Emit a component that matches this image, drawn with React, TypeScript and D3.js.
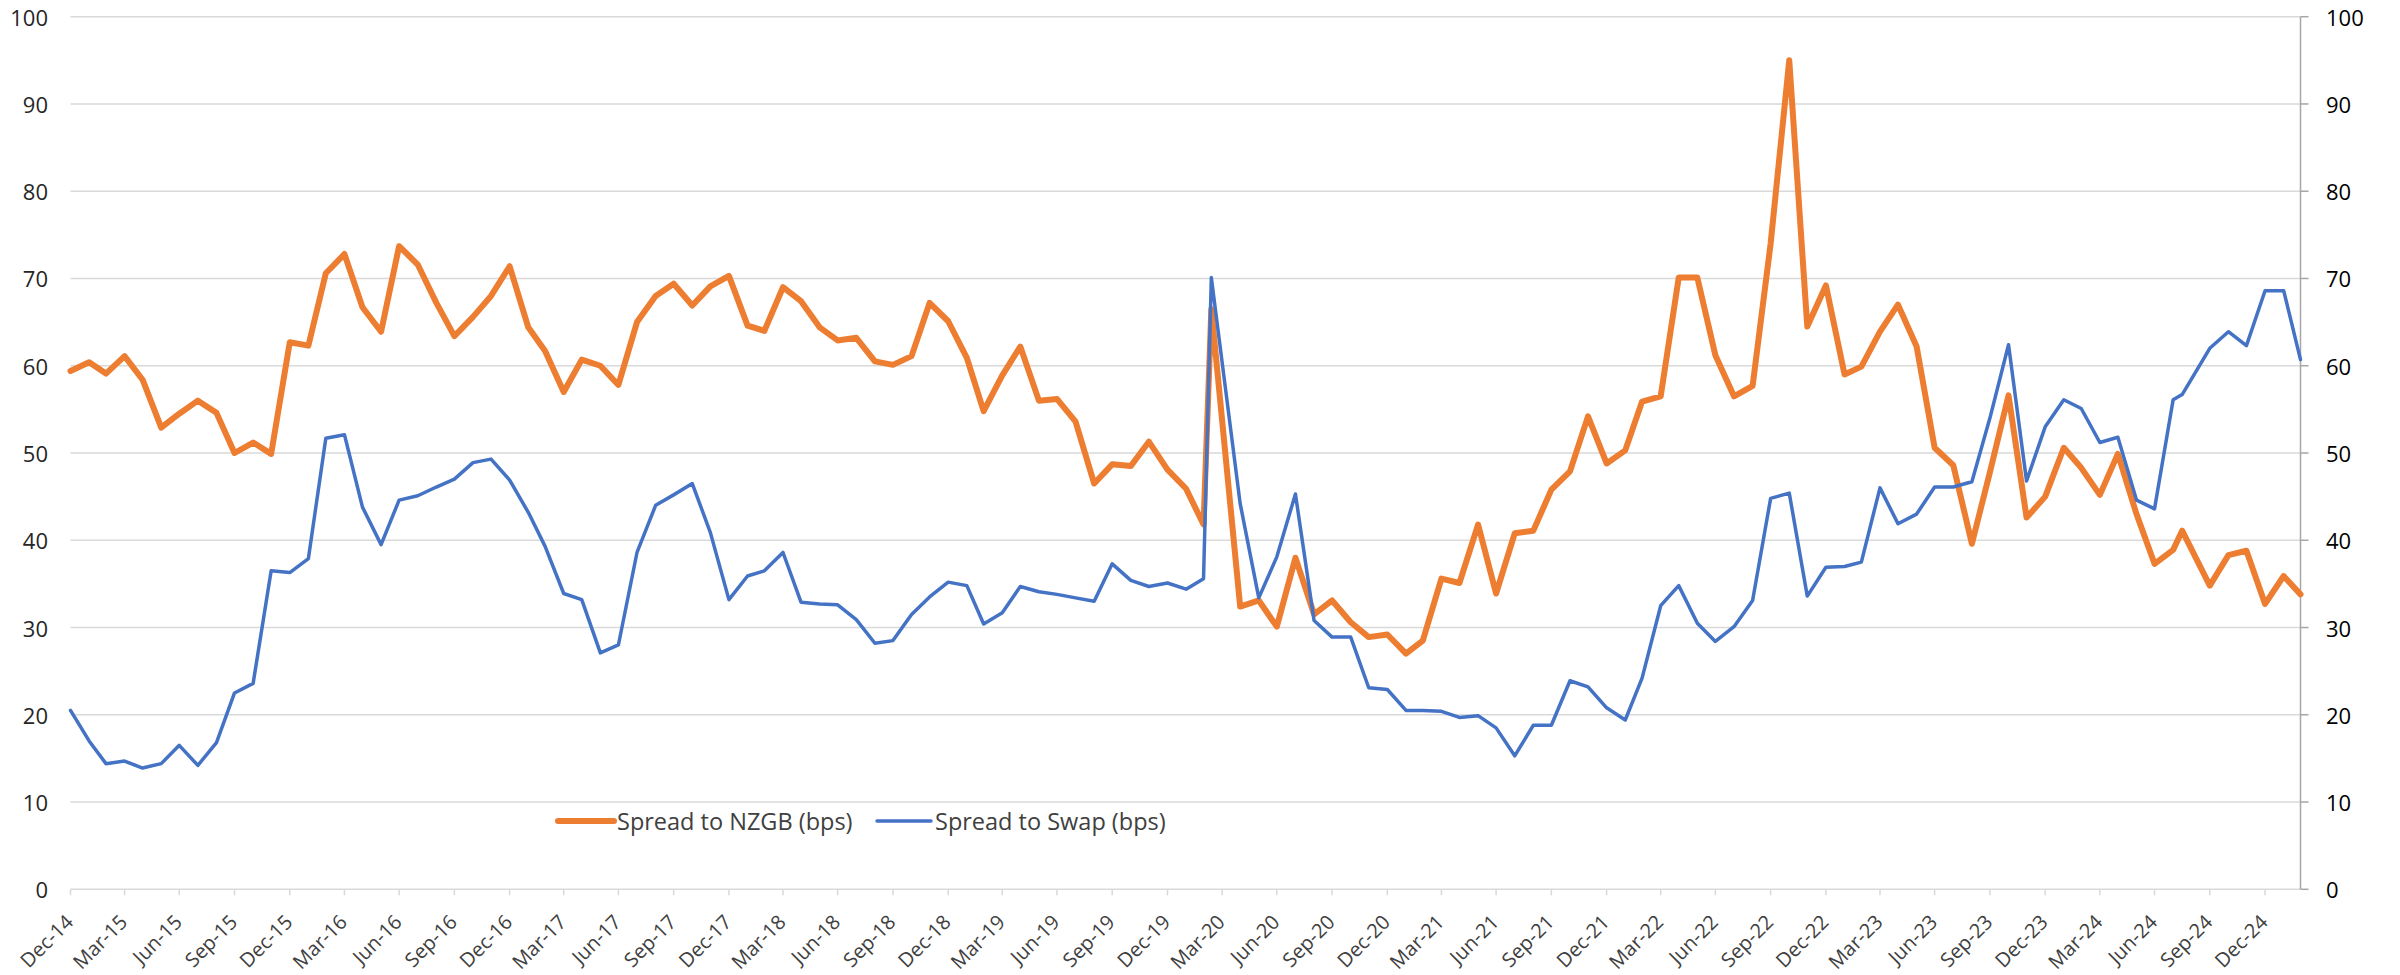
import * as d3 from "d3";

// Month-end observations from Dec-14 to Feb-25. Two months were sampled mid-month.
const monthCount = 123;
const midMonthDates: Record<number, string> = { 63: "2020-03-13", 116: "2024-08-15" };

const nzgbSpread = [
  59.4, 60.4, 59.1, 61.1, 58.4, 52.9, 54.5, 56.0, 54.6, 50.0, 51.2, 49.9,
  62.7, 62.3, 70.6, 72.8, 66.7, 63.9, 73.7, 71.6, 67.2, 63.4, 65.6, 68.0,
  71.4, 64.4, 61.7, 57.0, 60.7, 60.0, 57.8, 65.0, 68.0, 69.4, 66.9, 69.1,
  70.3, 64.6, 64.0, 69.0, 67.4, 64.4, 62.9, 63.2, 60.5, 60.1, 61.1, 67.2,
  65.1, 60.9, 54.8, 58.9, 62.2, 56.0, 56.2, 53.6, 46.5, 48.7, 48.5, 51.3,
  48.1, 45.9, 41.8, 66.5, 32.4, 33.1, 30.1, 38.0, 31.5, 33.1, 30.6, 28.9,
  29.2, 27.0, 28.5, 35.6, 35.1, 41.8, 33.9, 40.8, 41.1, 45.8, 47.9, 54.2,
  48.8, 50.3, 55.9, 56.5, 70.1, 70.1, 61.2, 56.5, 57.7, 74.0, 95.0, 64.5,
  69.2, 59.0, 59.9, 63.9, 67.0, 62.2, 50.6, 48.6, 39.6, 47.8, 56.6, 42.6,
  45.0, 50.6, 48.3, 45.2, 49.9, 43.0, 37.3, 38.9, 41.1, 34.8, 38.3, 38.8,
  32.7, 35.9, 33.8,
];

const swapSpread = [
  20.5, 17.0, 14.4, 14.7, 13.9, 14.4, 16.5, 14.2, 16.8, 22.5, 23.6, 36.5,
  36.3, 37.9, 51.7, 52.1, 43.8, 39.5, 44.6, 45.1, 46.1, 47.0, 48.9, 49.3,
  46.9, 43.2, 39.3, 33.9, 33.2, 27.1, 28.0, 38.6, 44.0, 45.2, 46.5, 40.9,
  33.2, 35.9, 36.5, 38.6, 32.9, 32.7, 32.6, 30.9, 28.2, 28.5, 31.5, 33.5,
  35.2, 34.8, 30.4, 31.7, 34.7, 34.1, 33.8, 33.4, 33.0, 37.3, 35.4, 34.7,
  35.1, 34.4, 35.6, 70.1, 44.2, 33.4, 38.1, 45.3, 30.8, 28.9, 28.9, 23.1,
  22.9, 20.5, 20.5, 20.4, 19.7, 19.9, 18.5, 15.3, 18.8, 18.8, 23.9, 23.2,
  20.8, 19.4, 24.2, 32.5, 34.8, 30.5, 28.4, 30.1, 33.1, 44.8, 45.4, 33.6,
  36.9, 37.0, 37.5, 46.0, 41.9, 43.0, 46.1, 46.1, 46.7, 54.0, 62.4, 46.8,
  53.0, 56.1, 55.1, 51.2, 51.8, 44.6, 43.6, 56.1, 56.7, 62.0, 63.9, 62.3,
  68.6, 68.6, 60.7,
];

const yTicks = [0, 10, 20, 30, 40, 50, 60, 70, 80, 90, 100];
const labelEveryMonths = 3;

const series = [
  { name: "Spread to NZGB (bps)", values: nzgbSpread, color: "#ED7D31", width: 6 },
  { name: "Spread to Swap (bps)", values: swapSpread, color: "#4472C4", width: 3.5 },
];

const parseDay = d3.timeParse("%Y-%m-%d");
const monthEnd = (i: number) => new Date(2015, i, 0);
const dates = d3.range(monthCount).map((i) =>
  midMonthDates[i] ? (parseDay(midMonthDates[i]) as Date) : monthEnd(i)
);
const tickDates = d3.range(0, monthCount, labelEveryMonths).map(monthEnd);

const W = 2400;
const H = 975;
const plot = { left: 70.5, right: 2300.5, top: 16.7, bottom: 889.3 };
const font = "'Open Sans', 'Noto Sans', sans-serif";
const gridColor = "#d9d9d9";

export default function App() {
  const x = d3
    .scaleTime()
    .domain([monthEnd(0), monthEnd(monthCount - 1)])
    .range([plot.left, plot.right]);
  const y = d3.scaleLinear().domain([0, 100]).range([plot.bottom, plot.top]);
  const fmt = d3.timeFormat("%b-%y");

  const lineFor = (values: number[]) =>
    d3
      .line<number>()
      .x((_, i) => x(dates[i]))
      .y((d) => y(d))(values) as string;

  // legend layout
  const legendY = 821;
  const legendItems = [
    { x0: 558, x1: 614, tx: 617 },
    { x0: 877, x1: 931, tx: 935 },
  ];

  return (
    <svg
      width={W}
      height={H}
      style={{ position: "absolute", left: 0, top: 0, background: "#fff" }}
      fontFamily={font}
    >
      {/* gridlines */}
      {yTicks
        .filter((t) => t > 0)
        .map((t) => (
          <line
            key={"g" + t}
            x1={plot.left}
            x2={plot.right}
            y1={y(t)}
            y2={y(t)}
            stroke={gridColor}
            strokeWidth={1.5}
          />
        ))}

      {/* category axis */}
      <line
        x1={plot.left}
        x2={plot.right}
        y1={plot.bottom}
        y2={plot.bottom}
        stroke={gridColor}
        strokeWidth={1.5}
      />
      {tickDates.map((d) => (
        <g key={d.toISOString()}>
          <line
            x1={x(d)}
            x2={x(d)}
            y1={plot.bottom}
            y2={plot.bottom + 6}
            stroke={gridColor}
            strokeWidth={1.5}
          />
          <text
            transform={`translate(${x(d) + 4},${plot.bottom + 34}) rotate(-45)`}
            textAnchor="end"
            fontSize={20}
            fill="#404040"
          >
            {fmt(d)}
          </text>
        </g>
      ))}

      {/* left value labels */}
      {yTicks.map((t) => (
        <text
          key={"l" + t}
          x={48}
          y={y(t)}
          textAnchor="end"
          dominantBaseline="central"
          fontSize={22}
          fill="#262626"
        >
          {t}
        </text>
      ))}

      {/* right axis */}
      <line
        x1={plot.right}
        x2={plot.right}
        y1={plot.top}
        y2={plot.bottom}
        stroke="#a6a6a6"
        strokeWidth={1.5}
      />
      {yTicks.map((t) => (
        <g key={"r" + t}>
          <line
            x1={plot.right}
            x2={plot.right + 8}
            y1={y(t)}
            y2={y(t)}
            stroke="#a6a6a6"
            strokeWidth={1.5}
          />
          <text
            x={2326}
            y={y(t)}
            dominantBaseline="central"
            fontSize={22}
            fill="#000"
          >
            {t}
          </text>
        </g>
      ))}

      {/* series */}
      {series.map((s) => (
        <path
          key={s.name}
          d={lineFor(s.values)}
          fill="none"
          stroke={s.color}
          strokeWidth={s.width}
          strokeLinejoin="round"
          strokeLinecap="round"
        />
      ))}

      {/* legend */}
      {series.map((s, i) => (
        <g key={"lg" + s.name}>
          <line
            x1={legendItems[i].x0}
            x2={legendItems[i].x1}
            y1={legendY}
            y2={legendY}
            stroke={s.color}
            strokeWidth={s.width}
            strokeLinecap="round"
          />
          <text
            x={legendItems[i].tx}
            y={legendY}
            dominantBaseline="central"
            fontSize={23.5}
            fill="#404040"
          >
            {s.name}
          </text>
        </g>
      ))}
    </svg>
  );
}
